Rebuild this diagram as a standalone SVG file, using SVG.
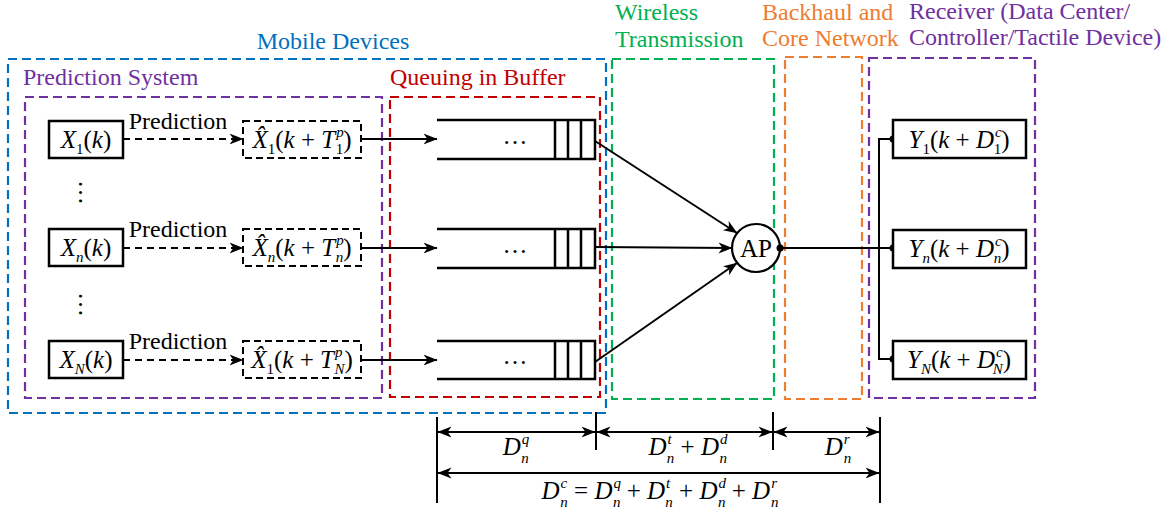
<svg xmlns="http://www.w3.org/2000/svg" width="1172" height="516" viewBox="0 0 1172 516" font-family="'Liberation Serif', 'Times New Roman', serif">
<style>
text{font-family:'Liberation Serif','Times New Roman',serif;}
.lbl{font-size:24px;}
.m{font-size:25px;fill:#000;}
.i{font-style:italic;}
.sc{font-size:15px;}
.box{fill:#fff;stroke:#000;stroke-width:2.5;}
.dbox{fill:none;stroke:#000;stroke-width:2;stroke-dasharray:7 4;}
.grp{fill:none;stroke-width:2.2;stroke-dasharray:9 5;}
.ln{fill:none;stroke:#000;stroke-width:2;}
.dash{stroke-dasharray:7 5;}
.q{fill:none;stroke:#000;stroke-width:2.5;}
</style>
<defs>
<marker id="ah" viewBox="0 0 14 12" refX="13.5" refY="6" markerWidth="14" markerHeight="12" orient="auto-start-reverse" markerUnits="userSpaceOnUse">
<path d="M0,0.5 L14,6 L0,11.5 L4,6 z" fill="#000"/>
</marker>
</defs>
<rect width="1172" height="516" fill="#fff"/>

<g id="regions">
<g id="mobile-devices">
<rect class="grp" x="8" y="59" width="598" height="354" stroke="#0070C0"/>
<text class="lbl" x="333" y="49" text-anchor="middle" fill="#0070C0">Mobile Devices</text>
</g>
<g id="prediction-system">
<rect class="grp" x="25" y="97" width="357" height="301" stroke="#7030A0"/>
<text class="lbl" x="23" y="85" fill="#7030A0">Prediction System</text>
</g>
<g id="queuing">
<rect class="grp" x="390" y="97" width="210" height="300" stroke="#C00000"/>
<text class="lbl" x="390" y="85" fill="#C00000">Queuing in Buffer</text>
</g>
<g id="wireless">
<rect class="grp" x="612" y="59" width="162" height="340" stroke="#00B050"/>
<text class="lbl" x="615" y="20" fill="#00B050">Wireless</text>
<text class="lbl" x="615" y="47" fill="#00B050">Transmission</text>
</g>
<g id="backhaul">
<rect class="grp" x="785" y="57" width="77" height="342" stroke="#ED7D31"/>
<text class="lbl" x="762" y="20" fill="#ED7D31">Backhaul and</text>
<text class="lbl" x="762" y="46" fill="#ED7D31">Core Network</text>
</g>
<g id="receiver">
<rect class="grp" x="869" y="58" width="166" height="340" stroke="#7030A0"/>
<text class="lbl" x="909" y="19" fill="#7030A0">Receiver (Data Center/</text>
<text class="lbl" x="909" y="45" fill="#7030A0">Controller/Tactile Device)</text>
</g>
</g>

<g id="connectors">
<line class="ln dash" x1="123" y1="139" x2="243" y2="139" marker-end="url(#ah)"/>
<line class="ln dash" x1="123" y1="248" x2="243" y2="248" marker-end="url(#ah)"/>
<line class="ln dash" x1="123" y1="360" x2="243" y2="360" marker-end="url(#ah)"/>
<text class="lbl" x="178" y="129" text-anchor="middle">Prediction</text>
<text class="lbl" x="178" y="237" text-anchor="middle">Prediction</text>
<text class="lbl" x="178" y="349" text-anchor="middle">Prediction</text>
<line class="ln" x1="361" y1="139" x2="437" y2="139" marker-end="url(#ah)"/>
<line class="ln" x1="361" y1="248" x2="437" y2="248" marker-end="url(#ah)"/>
<line class="ln" x1="361" y1="360" x2="437" y2="360" marker-end="url(#ah)"/>
<line class="ln" x1="595" y1="141" x2="737" y2="233" marker-end="url(#ah)"/>
<line class="ln" x1="595" y1="247" x2="732" y2="248" marker-end="url(#ah)"/>
<line class="ln" x1="595" y1="362" x2="737" y2="263" marker-end="url(#ah)"/>
<line class="ln" x1="780" y1="248" x2="893" y2="248"/>
<polyline class="ln" points="893,139 879,139 879,359 893,359"/>
<circle cx="780" cy="248" r="3.5" fill="#000"/>
<circle cx="893" cy="139" r="3.5" fill="#000"/>
<circle cx="893" cy="248" r="3.5" fill="#000"/>
<circle cx="893" cy="359" r="3.5" fill="#000"/>
</g>

<g id="sources">
<g id="x1">
<rect class="box" x="49" y="121" width="74" height="37"/>
<text class="m" x="86" y="148" text-anchor="middle"><tspan class="i">X</tspan><tspan class="sc" dy="6">1</tspan><tspan dy="-6">(</tspan><tspan class="i">k</tspan>)</text>
</g>
<g id="xn">
<rect class="box" x="49" y="229" width="74" height="37"/>
<text class="m" x="86" y="256" text-anchor="middle"><tspan class="i">X</tspan><tspan class="sc i" dy="6">n</tspan><tspan dy="-6">(</tspan><tspan class="i">k</tspan>)</text>
</g>
<g id="xN">
<rect class="box" x="49" y="341" width="74" height="37"/>
<text class="m" x="86" y="368" text-anchor="middle"><tspan class="i">X</tspan><tspan class="sc i" dy="6">N</tspan><tspan dy="-6">(</tspan><tspan class="i">k</tspan>)</text>
</g>
<text class="m" transform="translate(79,180) rotate(90)" x="0" y="0">…</text>
<text class="m" transform="translate(79,292) rotate(90)" x="0" y="0">…</text>
</g>

<g id="predictions">
<g id="p1">
<rect class="dbox" x="243" y="121" width="118" height="37"/>
<text class="m" x="302" y="148" text-anchor="middle"><tspan class="i">X̂</tspan><tspan class="sc" dy="6">1</tspan><tspan dy="-6">(</tspan><tspan class="i">k</tspan> + <tspan class="i">T</tspan><tspan class="sc i" dy="-11" dx="1">p</tspan><tspan class="sc" dy="17" dx="-8">1</tspan><tspan dy="-6">)</tspan></text>
</g>
<g id="pn">
<rect class="dbox" x="243" y="229" width="118" height="37"/>
<text class="m" x="302" y="256" text-anchor="middle"><tspan class="i">X̂</tspan><tspan class="sc i" dy="6">n</tspan><tspan dy="-6">(</tspan><tspan class="i">k</tspan> + <tspan class="i">T</tspan><tspan class="sc i" dy="-11" dx="1">p</tspan><tspan class="sc i" dy="17" dx="-8">n</tspan><tspan dy="-6">)</tspan></text>
</g>
<g id="pN">
<rect class="dbox" x="243" y="341" width="118" height="37"/>
<text class="m" x="302" y="368" text-anchor="middle"><tspan class="i">X̂</tspan><tspan class="sc" dy="6">1</tspan><tspan dy="-6">(</tspan><tspan class="i">k</tspan> + <tspan class="i">T</tspan><tspan class="sc i" dy="-11" dx="1">p</tspan><tspan class="sc i" dy="17" dx="-8">N</tspan><tspan dy="-6">)</tspan></text>
</g>
</g>

<g id="queues">
<g id="queue1">
<path class="q" d="M437,120 H595 V159 H437 M555,120 V159 M568,120 V159 M581,120 V159"/>
<text class="m" x="515" y="144" text-anchor="middle">…</text>
</g>
<g id="queue2">
<path class="q" d="M437,229 H595 V268 H437 M555,229 V268 M568,229 V268 M581,229 V268"/>
<text class="m" x="515" y="253" text-anchor="middle">…</text>
</g>
<g id="queue3">
<path class="q" d="M437,341 H595 V379 H437 M555,341 V379 M568,341 V379 M581,341 V379"/>
<text class="m" x="515" y="364" text-anchor="middle">…</text>
</g>
</g>

<g id="ap">
<circle cx="756" cy="248" r="24" fill="#fff" stroke="#000" stroke-width="2.2"/>
<text x="756" y="257" font-size="25" text-anchor="middle">AP</text>
<circle cx="780" cy="248" r="3.5" fill="#000"/>
</g>

<g id="receivers">
<g id="y1">
<rect class="box" x="893" y="120" width="133" height="38"/>
<text class="m" x="959" y="148" text-anchor="middle"><tspan class="i">Y</tspan><tspan class="sc" dy="6">1</tspan><tspan dy="-6">(</tspan><tspan class="i">k</tspan> + <tspan class="i">D</tspan><tspan class="sc i" dy="-11" dx="1">c</tspan><tspan class="sc" dy="17" dx="-8">1</tspan><tspan dy="-6">)</tspan></text>
</g>
<g id="yn">
<rect class="box" x="893" y="230" width="133" height="38"/>
<text class="m" x="959" y="257" text-anchor="middle"><tspan class="i">Y</tspan><tspan class="sc i" dy="6">n</tspan><tspan dy="-6">(</tspan><tspan class="i">k</tspan> + <tspan class="i">D</tspan><tspan class="sc i" dy="-11" dx="1">c</tspan><tspan class="sc i" dy="17" dx="-8">n</tspan><tspan dy="-6">)</tspan></text>
</g>
<g id="yN">
<rect class="box" x="893" y="341" width="133" height="38"/>
<text class="m" x="959" y="368" text-anchor="middle"><tspan class="i">Y</tspan><tspan class="sc i" dy="6">N</tspan><tspan dy="-6">(</tspan><tspan class="i">k</tspan> + <tspan class="i">D</tspan><tspan class="sc i" dy="-11" dx="1">c</tspan><tspan class="sc i" dy="17" dx="-10">N</tspan><tspan dy="-6">)</tspan></text>
</g>
</g>

<g id="delays">
<line class="ln" x1="437" y1="417" x2="437" y2="503"/>
<line class="ln" x1="596" y1="412" x2="596" y2="450"/>
<line class="ln" x1="773" y1="412" x2="773" y2="450"/>
<line class="ln" x1="880" y1="417" x2="880" y2="503"/>
<line class="ln" x1="438" y1="432" x2="595" y2="432" marker-start="url(#ah)" marker-end="url(#ah)"/>
<line class="ln" x1="597" y1="432" x2="772" y2="432" marker-start="url(#ah)" marker-end="url(#ah)"/>
<line class="ln" x1="774" y1="432" x2="879" y2="432" marker-start="url(#ah)" marker-end="url(#ah)"/>
<line class="ln" x1="438" y1="473" x2="879" y2="473" marker-start="url(#ah)" marker-end="url(#ah)"/>
<text class="m" x="516" y="455" text-anchor="middle"><tspan class="i">D</tspan><tspan class="sc i" dy="-11" dx="1">q</tspan><tspan class="sc i" dy="19" dx="-8">n</tspan></text>
<text class="m" x="688" y="455" text-anchor="middle"><tspan class="i">D</tspan><tspan class="sc i" dy="-11" dx="1">t</tspan><tspan class="sc i" dy="19" dx="-5">n</tspan><tspan dy="-8"> + </tspan><tspan class="i">D</tspan><tspan class="sc i" dy="-11" dx="1">d</tspan><tspan class="sc i" dy="19" dx="-8">n</tspan></text>
<text class="m" x="838" y="455" text-anchor="middle"><tspan class="i">D</tspan><tspan class="sc i" dy="-11" dx="1">r</tspan><tspan class="sc i" dy="19" dx="-6">n</tspan></text>
<text class="m" x="660" y="499" text-anchor="middle"><tspan class="i">D</tspan><tspan class="sc i" dy="-11" dx="1">c</tspan><tspan class="sc i" dy="19" dx="-7">n</tspan><tspan dy="-8"> = </tspan><tspan class="i">D</tspan><tspan class="sc i" dy="-11" dx="1">q</tspan><tspan class="sc i" dy="19" dx="-8">n</tspan><tspan dy="-8"> + </tspan><tspan class="i">D</tspan><tspan class="sc i" dy="-11" dx="1">t</tspan><tspan class="sc i" dy="19" dx="-5">n</tspan><tspan dy="-8"> + </tspan><tspan class="i">D</tspan><tspan class="sc i" dy="-11" dx="1">d</tspan><tspan class="sc i" dy="19" dx="-8">n</tspan><tspan dy="-8"> + </tspan><tspan class="i">D</tspan><tspan class="sc i" dy="-11" dx="1">r</tspan><tspan class="sc i" dy="19" dx="-6">n</tspan></text>
</g>
</svg>
